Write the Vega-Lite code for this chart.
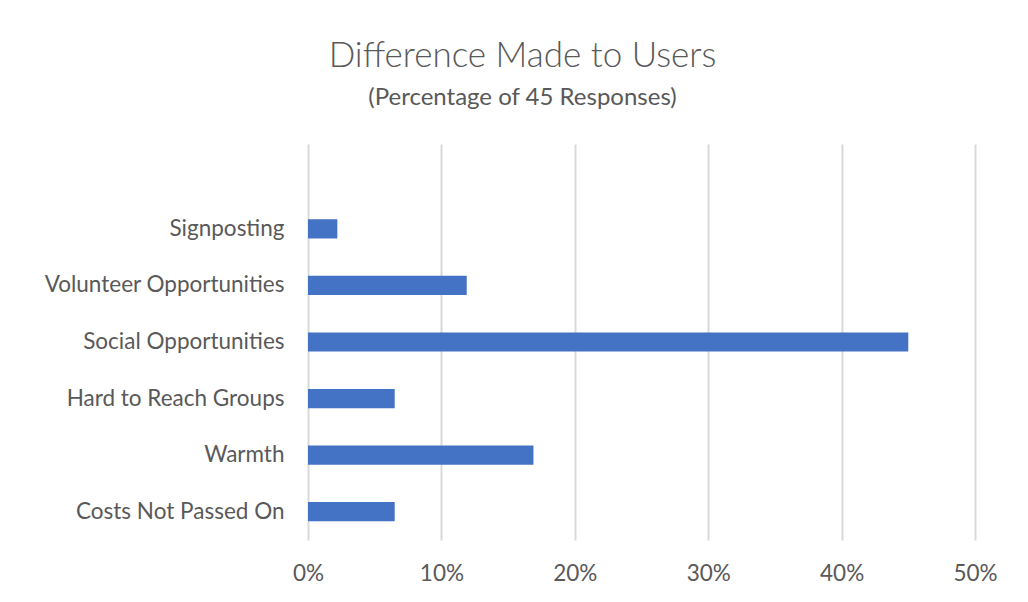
{
  "$schema": "https://vega.github.io/schema/vega-lite/v6.json",
  "autosize": "none",
  "width": 667,
  "height": 396,
  "padding": {"left": 308, "top": 144, "right": 53, "bottom": 62},
  "background": "white",
  "title": {
    "text": "Difference Made to Users",
    "subtitle": "(Percentage of 45 Responses)",
    "anchor": "middle",
    "dx": -119,
    "offset": 34,
    "font": "Lato",
    "fontSize": 35,
    "fontWeight": 300,
    "color": "#595959",
    "subtitleFont": "Lato",
    "subtitleFontSize": 24,
    "subtitleColor": "#595959",
    "subtitlePadding": 12
  },
  "data": {
    "values": [
      {"category": "Signposting", "value": 0.022},
      {"category": "Volunteer Opportunities", "value": 0.119},
      {"category": "Social Opportunities", "value": 0.45},
      {"category": "Hard to Reach Groups", "value": 0.065},
      {"category": "Warmth", "value": 0.169},
      {"category": "Costs Not Passed On", "value": 0.065}
    ]
  },
  "mark": {"type": "bar", "color": "#4472C4"},
  "encoding": {
    "y": {
      "field": "category",
      "type": "nominal",
      "title": null,
      "scale": {
        "domain": [" ", "Signposting", "Volunteer Opportunities", "Social Opportunities", "Hard to Reach Groups", "Warmth", "Costs Not Passed On"],
        "paddingInner": 0.66,
        "paddingOuter": 0.33
      },
      "axis": {
        "domain": false,
        "ticks": false,
        "labelPadding": 24,
        "labelFont": "Lato",
        "labelFontSize": 22.5,
        "labelColor": "#595959",
        "labelLimit": 300
      }
    },
    "x": {
      "field": "value",
      "type": "quantitative",
      "title": null,
      "scale": {"domain": [0, 0.5], "nice": false},
      "axis": {
        "format": ".0%",
        "values": [0, 0.1, 0.2, 0.3, 0.4, 0.5],
        "domain": false,
        "ticks": false,
        "grid": true,
        "gridColor": "#d9d9d9",
        "gridWidth": 2,
        "labelFlush": false,
        "labelPadding": 22,
        "labelFont": "Lato",
        "labelFontSize": 22.5,
        "labelColor": "#595959"
      }
    }
  },
  "config": {"view": {"stroke": null}}
}
